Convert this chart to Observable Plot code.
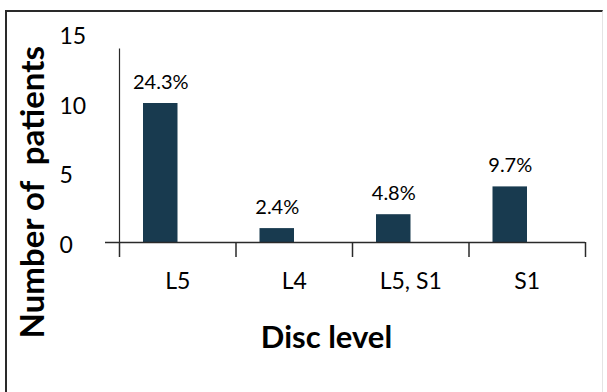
<!DOCTYPE html>
<html>
<head>
<meta charset="utf-8">
<script src="https://cdn.jsdelivr.net/npm/d3@7"></script>
<script src="https://cdn.jsdelivr.net/npm/@observablehq/plot@0.6"></script>
<style>
  html, body { margin: 0; padding: 0; background: #fff; }
  #wrap { position: relative; width: 607px; height: 392px; overflow: hidden; }
  #border { position: absolute; left: 5px; top: 10px; width: 598px; height: 390px;
    border-left: 2px solid #2a2a2a; border-top: 2px solid #2a2a2a; border-right: 1px solid #e4e4e4; box-sizing: border-box; }
  #chart { position: absolute; left: 0; top: 0; }
</style>
</head>
<body>
<div id="wrap"><div id="border"></div><div id="chart"></div></div>
<script>
const categories = ["L5", "L4", "L5, S1", "S1"];
const patients = [10, 1, 2, 4];
const percentLabels = ["24.3%", "2.4%", "4.8%", "9.7%"];
const yTicks = [0, 5, 10, 15];
const xTitle = "Disc level";
const yTitle = "Number of  patients";

const rows = categories.map((c, i) => ({cat: c, i, n: patients[i], pct: percentLabels[i]}));
const bounds = d3.range(categories.length + 1);

const font = "Lato, 'Open Sans', sans-serif";
const ink = "#2a2a2a";

const plot = Plot.plot({
  width: 607,
  height: 392,
  marginLeft: 119,
  marginRight: 22,
  marginTop: 33.5,
  marginBottom: 150,
  style: {fontFamily: font, background: "transparent", color: "#111", overflow: "visible"},
  x: {type: "linear", domain: [0, categories.length], axis: null},
  y: {domain: [0, 15], axis: null},
  marks: [
    Plot.rectY(rows, {x1: "i", x2: d => d.i + 1, y: "n", fill: "#183a4f", insetLeft: 24, insetRight: 58}),
    Plot.text(rows, {x: d => d.i + 0.5, y: "n", text: "pct", dx: -17, dy: -21, fontSize: 20, fill: "#000"}),
    Plot.ruleY([0], {stroke: ink, strokeWidth: 1.5, insetLeft: -14}),
    Plot.ruleX(bounds, {x: d => d, y1: 0, y2: 0, insetBottom: -15, stroke: ink, strokeWidth: 1.5}),
    Plot.ruleX([0], {y1: 0, y2: 15, insetBottom: -15, stroke: ink, strokeWidth: 1.2}),
    Plot.text(yTicks, {y: d => d, text: d => String(d), frameAnchor: "left", dx: -60, dy: 3, textAnchor: "start", fontSize: 23, fill: "#000"}),
    Plot.text(rows, {x: d => d.i + 0.5, text: "cat", frameAnchor: "bottom", dy: 46, fontSize: 23, fill: "#000"}),
    Plot.text([xTitle], {text: d => d, frameAnchor: "bottom", dx: -26, dy: 105, fontSize: 31, fontWeight: "bold", fill: "#000"}),
    Plot.text([yTitle], {text: d => d, frameAnchor: "left", textAnchor: "middle", rotate: -90, dx: -86, dy: 54, fontSize: 33, fontWeight: "bold", fill: "#000"})
  ]
});
document.getElementById("chart").appendChild(plot);
</script>
</body>
</html>
